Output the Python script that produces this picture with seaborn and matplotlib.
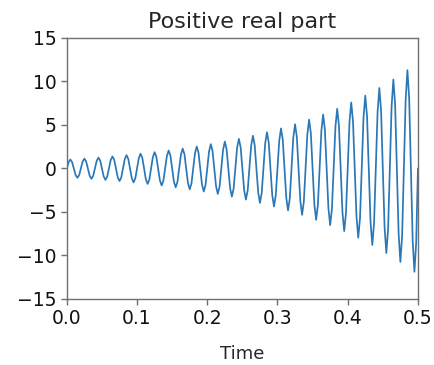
import numpy as np
import pandas as pd
import matplotlib
matplotlib.use("Agg")
import matplotlib.pyplot as plt
import seaborn as sns

sample_step = 0.0025
seg_0_01 = [0, .72, 1.03, .73, 0, -.75, -1.08, -.77, 0, .79, 1.13, .81, 0, -.83, -1.19, -.85,
            0, .87, 1.25, .90, 0, -.92, -1.32, -.94, 0, .97, 1.38, .99, 0, -1.02, -1.45, -1.04,
            0, 1.07, 1.53, 1.10, 0, -1.12, -1.61, -1.15]
seg_01_02 = [0, 1.18, 1.69, 1.21, 0, -1.24, -1.78, -1.27, 0, 1.30, 1.87, 1.34, 0, -1.37, -1.96, -1.41,
             0, 1.44, 2.06, 1.48, 0, -1.52, -2.17, -1.55, 0, 1.59, 2.28, 1.63, 0, -1.68, -2.40, -1.72,
             0, 1.76, 2.52, 1.81, 0, -1.85, -2.65, -1.90]
seg_02_03 = [0, 1.95, 2.79, 2.00, 0, -2.05, -2.93, -2.10, 0, 2.15, 3.08, 2.21, 0, -2.26, -3.24, -2.32,
             0, 2.38, 3.40, 2.44, 0, -2.50, -3.58, -2.56, 0, 2.63, 3.76, 2.69, 0, -2.76, -3.96, -2.83,
             0, 2.90, 4.16, 2.98, 0, -3.05, -4.37, -3.13]
seg_03_04 = [0, 3.21, 4.60, 3.29, 0, -3.37, -4.83, -3.46, 0, 3.55, 5.08, 3.64, 0, -3.73, -5.34, -3.82,
             0, 3.92, 5.61, 4.02, 0, -4.12, -5.90, -4.22, 0, 4.33, 6.20, 4.44, 0, -4.55, -6.52, -4.67,
             0, 4.79, 6.86, 4.91, 0, -5.03, -7.21, -5.16]
seg_04_05 = [0, 5.29, 7.58, 5.42, 0, -5.56, -7.96, -5.70, 0, 5.85, 8.37, 6.00, 0, -6.15, -8.80, -6.30,
             0, 6.46, 9.25, 6.63, 0, -6.79, -9.73, -6.97, 0, 7.14, 10.23, 7.32, 0, -7.51, -10.75, -7.70,
             0, 7.89, 11.30, 8.09, 0, -8.30, -11.88, -8.51, 0]

values = seg_0_01 + seg_01_02 + seg_02_03 + seg_03_04 + seg_04_05
times = np.arange(len(values)) * sample_step

x_ticks = [0.0, 0.1, 0.2, 0.3, 0.4, 0.5]
y_ticks = [-15, -10, -5, 0, 5, 10, 15]

df = pd.DataFrame({"Time": times, "value": values})

sns.set_theme(style="ticks")
plt.rcParams['font.family'] = ['DejaVu Sans']

fig = plt.figure(figsize=(4.34, 3.65), dpi=100)
ax = fig.add_axes([0.154, 0.181, 0.809, 0.715])
sns.lineplot(data=df, x="Time", y="value", ax=ax, color="#2a78b8", linewidth=1.25)

ax.set_xlim(0, 0.5)
ax.set_ylim(-15, 15)
ax.set_xticks(x_ticks)
ax.set_yticks(y_ticks)
ax.set_xticklabels([f"{v:.1f}" for v in x_ticks])
ax.set_yticklabels([f"{v}".replace("-", "\u2212") for v in y_ticks])
ax.set_xlabel("Time", fontsize=13, labelpad=12)
ax.set_ylabel("")
ax.set_title("Positive real part", fontsize=16, pad=7)

for s in ax.spines.values():
    s.set_visible(True)
    s.set_color("#707070")
    s.set_linewidth(1.0)
ax.tick_params(axis="both", colors="#707070", labelcolor="#111111", labelsize=13.5,
               length=4, width=1, direction="out")

fig.savefig("out.png", dpi=100)
